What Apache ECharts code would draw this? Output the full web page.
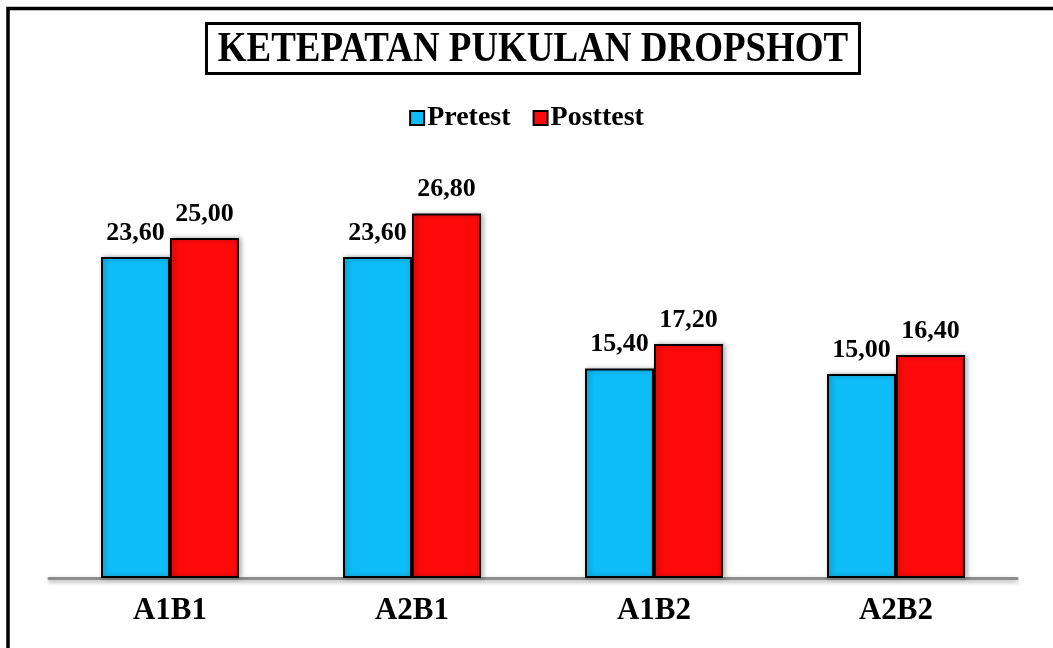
<!DOCTYPE html>
<html>
<head>
<meta charset="utf-8">
<script src="https://cdn.jsdelivr.net/npm/echarts@6/dist/echarts.min.js"></script>
<style>
  html, body { margin: 0; padding: 0; background: #fff; }
  #chart { width: 1053px; height: 648px; }
</style>
</head>
<body>
<div id="chart"></div>
<script>
const categories = ["A1B1", "A2B1", "A1B2", "A2B2"];
const pretestData = [23.6, 23.6, 15.4, 15.0];
const posttestData = [25.0, 26.8, 17.2, 16.4];
const titleText = "KETEPATAN PUKULAN DROPSHOT";

const chart = echarts.init(document.getElementById("chart"));
const font = "'Liberation Serif', 'Times New Roman', serif";
const fmt = (p) => p.value.toFixed(2).replace(".", ",");

const valueLabel = {
  show: true,
  position: "top",
  distance: 11,
  formatter: fmt,
  fontFamily: font,
  fontSize: 26,
  fontWeight: "bold",
  color: "#000",
};

const option = {
  backgroundColor: "#fff",
  animation: false,
  graphic: [
    // outer frame (only top/left visible in the source)
    {
      type: "rect",
      shape: { x: 8, y: 8.5, width: 1200, height: 800 },
      style: { fill: "none", stroke: "#000", lineWidth: 3.5 },
    },
    // boxed title, text a bit condensed like the original
    {
      type: "rect",
      shape: { x: 206.5, y: 23.5, width: 653, height: 50 },
      style: { fill: "#fff", stroke: "#000", lineWidth: 3 },
    },
    {
      type: "text",
      x: 533,
      y: 50,
      scaleX: 0.88,
      style: {
        text: titleText,
        fontFamily: font,
        fontSize: 42,
        fontWeight: "bold",
        fill: "#000",
        align: "center",
        verticalAlign: "middle",
      },
    },
  ],
  legend: {
    data: ["Pretest", "Posttest"],
    top: 99,
    left: "center",
    itemWidth: 14,
    itemHeight: 14,
    itemGap: 22,
    icon: "rect",
    textStyle: {
      fontFamily: font,
      fontSize: 28,
      fontWeight: "bold",
      color: "#000",
      padding: [0, 0, 0, -2],
    },
  },
  grid: {
    left: 49,
    right: 36,
    top: 170,
    bottom: 70,
  },
  xAxis: {
    type: "category",
    data: categories,
    axisLine: {
      lineStyle: {
        color: "#8c8c8c",
        width: 3,
        shadowColor: "rgba(0,0,0,0.35)",
        shadowBlur: 4,
        shadowOffsetY: 2,
      },
    },
    axisTick: { show: false },
    axisLabel: {
      margin: 17,
      fontFamily: font,
      fontSize: 31,
      fontWeight: "bold",
      color: "#000",
    },
  },
  yAxis: {
    type: "value",
    min: 0,
    max: 30,
    show: false,
    splitLine: { show: false },
  },
  series: [
    {
      name: "Pretest",
      type: "bar",
      data: pretestData,
      barGap: "0%",
      barCategoryGap: "43%",
      itemStyle: {
        color: "#0ebcf7",
        borderColor: "#000",
        borderWidth: 2,
        shadowColor: "rgba(0,0,0,0.3)",
        shadowBlur: 5,
        shadowOffsetX: 2,
      },
      label: valueLabel,
    },
    {
      name: "Posttest",
      type: "bar",
      data: posttestData,
      itemStyle: {
        color: "#fc0a0a",
        borderColor: "#000",
        borderWidth: 2,
        shadowColor: "rgba(0,0,0,0.3)",
        shadowBlur: 5,
        shadowOffsetX: 2,
      },
      label: valueLabel,
    },
  ],
};

chart.setOption(option);
window.addEventListener("resize", () => chart.resize());
</script>
</body>
</html>
